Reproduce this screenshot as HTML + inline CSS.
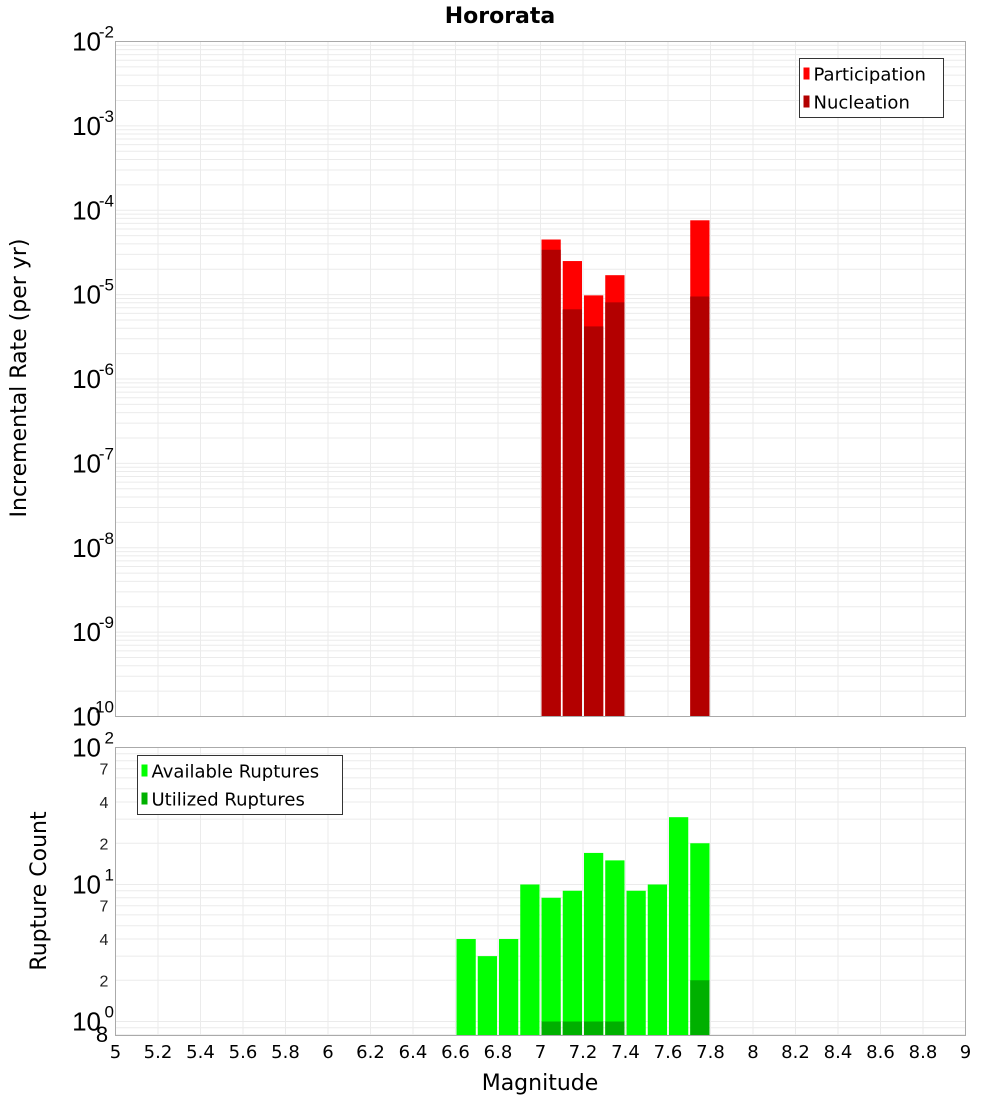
<!DOCTYPE html>
<html><head><meta charset="utf-8"><style>
html,body{margin:0;padding:0;background:#fff;}
svg{display:block;font-family:"Liberation Sans","DejaVu Sans",sans-serif;}
</style></head><body>
<svg id="chart" width="1000" height="1100" viewBox="0 0 1000 1100" xmlns="http://www.w3.org/2000/svg">
<text x="500" y="23" text-anchor="middle" font-size="22" font-weight="bold" font-family="DejaVu Sans, sans-serif">Hororata</text>
<g id="topG"></g>
<g id="botG"></g>
<text transform="translate(26,378) rotate(-90)" text-anchor="middle" font-size="22" font-family="DejaVu Sans, sans-serif">Incremental Rate (per yr)</text>
<text transform="translate(46,891) rotate(-90)" text-anchor="middle" font-size="22" font-family="DejaVu Sans, sans-serif">Rupture Count</text>
<text x="540" y="1090" text-anchor="middle" font-size="22" font-family="DejaVu Sans, sans-serif">Magnitude</text>
</svg>
<script>
const rateMags = [7.05, 7.15, 7.25, 7.35, 7.75];
const participation = [4.5e-5, 2.5e-5, 9.8e-6, 1.7e-5, 7.6e-5];
const nucleation = [3.4e-5, 6.7e-6, 4.2e-6, 8.1e-6, 9.5e-6];
const countMags = [6.65, 6.75, 6.85, 6.95, 7.05, 7.15, 7.25, 7.35, 7.45, 7.55, 7.65, 7.75];
const available = [4, 3, 4, 10, 8, 9, 17, 15, 9, 10, 31, 20];
const utilized = [0, 0, 0, 0, 1, 1, 1, 1, 0, 0, 0, 2];
const xTicks = [5,5.2,5.4,5.6,5.8,6,6.2,6.4,6.6,6.8,7,7.2,7.4,7.6,7.8,8,8.2,8.4,8.6,8.8,9];
const topDecades = [-2,-3,-4,-5,-6,-7,-8,-9,-10];
const botDecades = [2,1,0];
const botMinorLabels = [7,4,2];

const NS = "http://www.w3.org/2000/svg";
const X0 = 115.5, X1 = 965.5;
const x = m => X0 + (m - 5) / 4 * (X1 - X0);
const TT = 41.5, TB = 716.5;
const yTop = v => TT + (-2 - Math.log10(v)) / 8 * (TB - TT);
const BT = 747.5, BB = 1035.5, DEC = 137;
const yBot = v => BT + (2 - Math.log10(v)) * DEC;

function mk(parent, tag, attrs, name, text) {
  const el = document.createElementNS(NS, tag);
  for (const k in attrs) el.setAttribute(k, attrs[k]);
  
  
  if (text !== undefined) el.textContent = text;
  parent.appendChild(el);
  return el;
}
const topG = document.getElementById('topG');
const botG = document.getElementById('botG');
const gridCol = '#ebebeb';

function vgrid(g, t, b) {
  xTicks.forEach(m => mk(g, 'line', {x1: x(m), x2: x(m), y1: t, y2: b, stroke: gridCol, 'stroke-width': 1}, 'x-gridline'));
}
for (let d = -10; d < -2; d++) for (let k = 1; k < 10; k++) {
  const y = yTop(k * Math.pow(10, d));
  mk(topG, 'line', {x1: X0, x2: X1, y1: y, y2: y, stroke: gridCol}, 'y-gridline');
}
vgrid(topG, TT, TB);
for (let d = -1; d < 2; d++) for (let k = 1; k < 10; k++) {
  const v = k * Math.pow(10, d);
  const y = yBot(v);
  if (y < BT || y > BB) continue;
  mk(botG, 'line', {x1: X0, x2: X1, y1: y, y2: y, stroke: gridCol}, 'y-gridline');
}
vgrid(botG, BT, BB);

const bw = (x(5.1) - x(5)) - 2;
rateMags.forEach((m, i) => {
  const y = yTop(participation[i]);
  mk(topG, 'rect', {x: x(m) - bw / 2, y: y, width: bw, height: TB - y, fill: '#ff0000'}, 'participation-bar');
});
rateMags.forEach((m, i) => {
  const y = yTop(nucleation[i]);
  mk(topG, 'rect', {x: x(m) - bw / 2, y: y, width: bw, height: TB - y, fill: '#b30000'}, 'nucleation-bar');
});
countMags.forEach((m, i) => {
  const y = yBot(available[i]);
  mk(botG, 'rect', {x: x(m) - bw / 2, y: y, width: bw, height: BB - y, fill: '#00ff00'}, 'available-bar');
});
countMags.forEach((m, i) => {
  if (utilized[i] <= 0) return;
  const y = yBot(utilized[i]);
  mk(botG, 'rect', {x: x(m) - bw / 2, y: y, width: bw, height: BB - y, fill: '#00b000'}, 'utilized-bar');
});

mk(topG, 'rect', {x: X0, y: TT, width: X1 - X0, height: TB - TT, fill: 'none', stroke: '#aaa'}, 'top-plot-frame');
mk(botG, 'rect', {x: X0, y: BT, width: X1 - X0, height: BB - BT, fill: 'none', stroke: '#aaa'}, 'bottom-plot-frame');

topDecades.forEach(d => {
  const y = yTop(Math.pow(10, d));
  mk(topG, 'text', {x: 101, y: y + 9, 'text-anchor': 'end', 'font-size': 26}, 'y-tick-label', '10');
  mk(topG, 'text', {x: 114, y: y - 4, 'text-anchor': 'end', 'font-size': 17}, 'y-tick-exponent', String(d));
});
botDecades.forEach(d => {
  const y = yBot(Math.pow(10, d));
  mk(botG, 'text', {x: 101, y: y + 9, 'text-anchor': 'end', 'font-size': 26}, 'y-tick-label', '10');
  mk(botG, 'text', {x: 114, y: y - 4, 'text-anchor': 'end', 'font-size': 17}, 'y-tick-exponent', String(d));
});
[1, 0].forEach(d => botMinorLabels.forEach(k => {
  const y = yBot(k * Math.pow(10, d));
  mk(botG, 'text', {x: 104, y: y + 6, 'text-anchor': 'middle', 'font-size': 16, fill: '#222'}, 'y-minor-tick-label', String(k));
}));
mk(botG, 'text', {x: 102, y: yBot(0.8) + 7, 'text-anchor': 'middle', 'font-size': 22}, 'y-minor-tick-label', '8');

xTicks.forEach(m => {
  mk(botG, 'text', {x: x(m), y: 1058, 'text-anchor': 'middle', 'font-size': 18, 'font-family': 'DejaVu Sans, sans-serif'}, 'x-tick-label', String(m));
});

function legend(g, lx, ly, w, items, name) {
  mk(g, 'rect', {x: lx, y: ly, width: w, height: 59, fill: '#fff', stroke: '#333'}, name);
  items.forEach((it, i) => {
    const cy = ly + 15 + i * 28;
    mk(g, 'rect', {x: lx + 4, y: cy - 6, width: 6, height: 12, fill: it[1]}, 'legend-swatch');
    mk(g, 'text', {x: lx + 14, y: cy + 7, 'font-size': 18, 'font-family': 'DejaVu Sans, sans-serif'}, 'legend-entry', it[0]);
  });
}
legend(topG, 799.5, 58.5, 144, [['Participation', '#ff0000'], ['Nucleation', '#b30000']], 'top-legend');
legend(botG, 137.5, 755.5, 205, [['Available Ruptures', '#00ff00'], ['Utilized Ruptures', '#00b000']], 'bottom-legend');
</script>
</body></html>
